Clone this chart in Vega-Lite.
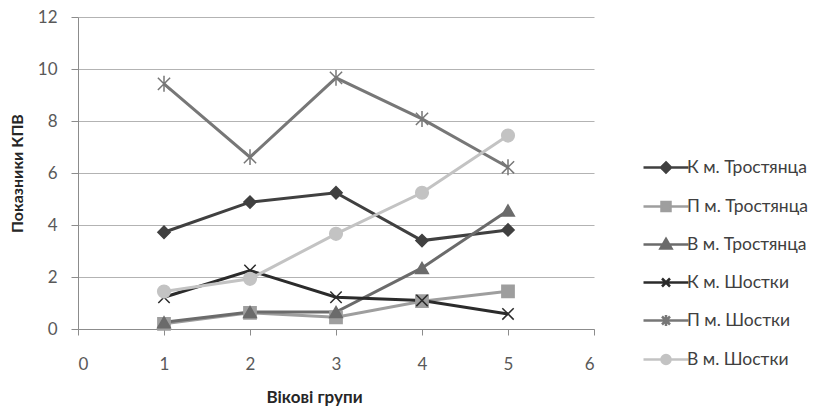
{
  "$schema": "https://vega.github.io/schema/vega-lite/v6.json",
  "width": 516,
  "height": 312,
  "autosize": {"type": "none"},
  "padding": {"left": 78, "top": 17, "right": 229, "bottom": 79},
  "background": "white",
  "config": {
    "view": {"stroke": null},
    "font": "Lato"
  },
  "data": {
    "values": [
      {"series": "К м. Тростянца", "group": 1, "value": 3.72},
      {"series": "К м. Тростянца", "group": 2, "value": 4.88},
      {"series": "К м. Тростянца", "group": 3, "value": 5.24},
      {"series": "К м. Тростянца", "group": 4, "value": 3.4},
      {"series": "К м. Тростянца", "group": 5, "value": 3.81},
      {"series": "П м. Тростянца", "group": 1, "value": 0.2},
      {"series": "П м. Тростянца", "group": 2, "value": 0.62},
      {"series": "П м. Тростянца", "group": 3, "value": 0.45},
      {"series": "П м. Тростянца", "group": 4, "value": 1.07},
      {"series": "П м. Тростянца", "group": 5, "value": 1.45},
      {"series": "В м. Тростянца", "group": 1, "value": 0.26},
      {"series": "В м. Тростянца", "group": 2, "value": 0.65},
      {"series": "В м. Тростянца", "group": 3, "value": 0.65},
      {"series": "В м. Тростянца", "group": 4, "value": 2.35},
      {"series": "В м. Тростянца", "group": 5, "value": 4.56},
      {"series": "К м. Шостки", "group": 1, "value": 1.22},
      {"series": "К м. Шостки", "group": 2, "value": 2.25},
      {"series": "К м. Шостки", "group": 3, "value": 1.22},
      {"series": "К м. Шостки", "group": 4, "value": 1.1},
      {"series": "К м. Шостки", "group": 5, "value": 0.58},
      {"series": "П м. Шостки", "group": 1, "value": 9.43},
      {"series": "П м. Шостки", "group": 2, "value": 6.61},
      {"series": "П м. Шостки", "group": 3, "value": 9.66},
      {"series": "П м. Шостки", "group": 4, "value": 8.08},
      {"series": "П м. Шостки", "group": 5, "value": 6.22},
      {"series": "В м. Шостки", "group": 1, "value": 1.44},
      {"series": "В м. Шостки", "group": 2, "value": 1.93},
      {"series": "В м. Шостки", "group": 3, "value": 3.66},
      {"series": "В м. Шостки", "group": 4, "value": 5.24},
      {"series": "В м. Шостки", "group": 5, "value": 7.44}
    ]
  },
  "encoding": {
    "x": {
      "field": "group",
      "type": "quantitative",
      "scale": {"domain": [0, 6], "nice": false},
      "axis": {
        "values": [0, 1, 2, 3, 4, 5, 6],
        "grid": false,
        "title": "Вікові групи",
        "titleFont": "Lato",
        "titleFontSize": 17,
        "titleFontWeight": "bold",
        "titleColor": "#262626",
        "titlePadding": 17,
        "titleX": 236,
        "labelFont": "Lato",
        "labelFontSize": 17,
        "labelColor": "#595959",
        "labelPadding": 21,
        "domainColor": "#8c8c8c",
        "tickColor": "#8c8c8c",
        "tickSize": 6
      }
    },
    "y": {
      "field": "value",
      "type": "quantitative",
      "scale": {"domain": [0, 12], "nice": false},
      "axis": {
        "values": [0, 2, 4, 6, 8, 10, 12],
        "grid": true,
        "gridColor": "#b3b3b3",
        "gridWidth": 1.2,
        "title": "Показники КПВ",
        "titleFont": "Lato",
        "titleFontSize": 16,
        "titleFontWeight": "bold",
        "titleColor": "#262626",
        "titlePadding": 12,
        "labelFont": "Lato",
        "labelFontSize": 17,
        "labelColor": "#595959",
        "labelPadding": 14,
        "domainColor": "#8c8c8c",
        "tickColor": "#8c8c8c",
        "tickSize": 7
      }
    },
    "color": {
      "field": "series",
      "type": "nominal",
      "scale": {
        "domain": ["К м. Тростянца", "П м. Тростянца", "В м. Тростянца", "К м. Шостки", "П м. Шостки", "В м. Шостки"],
        "range": ["#404040", "#9e9e9e", "#6b6b6b", "#2b2b2b", "#777777", "#c3c3c3"]
      },
      "legend": {
        "title": null,
        "orient": "none",
        "legendX": 564,
        "legendY": 139,
        "padding": 0,
        "rowPadding": 17,
        "symbolSize": 400,
        "symbolStrokeWidth": 2.5,
        "symbolType": "circle",
        "labelFont": "Lato",
        "labelFontSize": 17.5,
        "labelColor": "#404040",
        "labelOffset": 22,
        "labelLimit": 300,
        "encode": {
          "symbols": {
            "update": {
              "shape": {"signal": "{'К м. Тростянца': 'M-1,0H3.5M1.25,-0.5L1.75,0L1.25,0.5L0.75,0Z', 'П м. Тростянца': 'M-1,0H3.5M0.8,-0.45H1.7V0.45H0.8Z', 'В м. Тростянца': 'M-1,0H3.5M1.25,-0.55L1.8,0.4H0.7Z', 'К м. Шостки': 'M-1,0H3.5M0.85,-0.4L1.65,0.4M1.65,-0.4L0.85,0.4', 'П м. Шостки': 'M-1,0H3.5M0.85,-0.4L1.65,0.4M1.65,-0.4L0.85,0.4M1.25,-0.55V0.55', 'В м. Шостки': 'M-1,0H3.5M1.25,-0.45A0.45,0.45,0,1,1,1.25,0.45A0.45,0.45,0,1,1,1.25,-0.45Z'}[datum.value]"},
              "fill": {"scale": "color", "field": "value"},
              "stroke": {"scale": "color", "field": "value"},
              "strokeWidth": {"value": 2.5},
              "fillOpacity": {"value": 1},
              "opacity": {"value": 1}
            }
          }
        }
      }
    }
  },
  "layer": [
    {
      "mark": {"type": "line", "strokeWidth": 3},
      "encoding": {"detail": {"field": "series"}}
    },
    {
      "transform": [{"filter": "datum.series == 'К м. Тростянца'"}],
      "mark": {"type": "point", "filled": true, "size": 150, "strokeWidth": 1.5, "opacity": 1, "shape": "diamond", "stroke": "#404040"}
    },
    {
      "transform": [{"filter": "datum.series == 'П м. Тростянца'"}],
      "mark": {"type": "point", "filled": true, "size": 150, "strokeWidth": 1.5, "opacity": 1, "shape": "square", "stroke": "#9e9e9e"}
    },
    {
      "transform": [{"filter": "datum.series == 'В м. Тростянца'"}],
      "mark": {"type": "point", "filled": true, "size": 160, "strokeWidth": 1.5, "opacity": 1, "shape": "triangle-up", "stroke": "#6b6b6b"}
    },
    {
      "transform": [{"filter": "datum.series == 'К м. Шостки'"}],
      "mark": {"type": "point", "filled": false, "size": 130, "strokeWidth": 1.5, "opacity": 1, "shape": "M-1,-1L1,1M1,-1L-1,1", "stroke": "#2b2b2b"}
    },
    {
      "transform": [{"filter": "datum.series == 'П м. Шостки'"}],
      "mark": {"type": "point", "filled": false, "size": 150, "strokeWidth": 1.5, "opacity": 1, "shape": "M-1,-1L1,1M1,-1L-1,1M0,-1.3V1.3", "stroke": "#777777"}
    },
    {
      "transform": [{"filter": "datum.series == 'В м. Шостки'"}],
      "mark": {"type": "point", "filled": true, "size": 160, "strokeWidth": 1.5, "opacity": 1, "shape": "circle", "stroke": "#c3c3c3"}
    }
  ]
}
